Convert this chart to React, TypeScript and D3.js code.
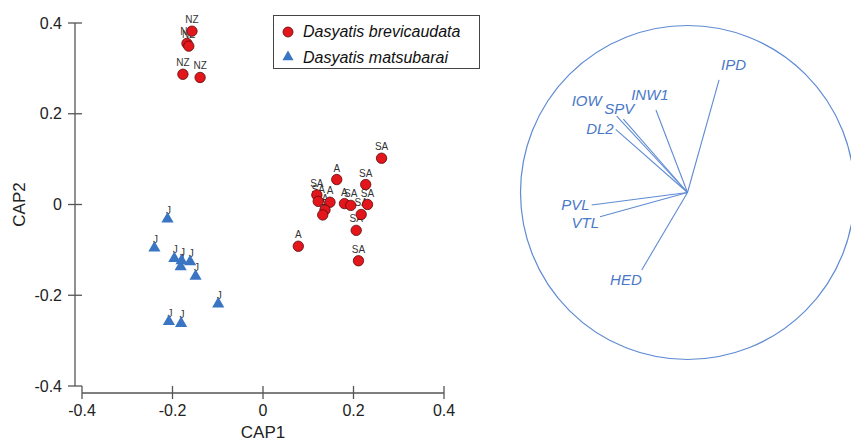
import React from "react";
import * as d3 from "d3";

// CAP ordination scores
const brevicaudataX = [-0.157, -0.168, -0.164, -0.177, -0.139, 0.262, 0.163, 0.227, 0.119, 0.122, 0.148, 0.137, 0.132, 0.18, 0.194, 0.231, 0.217, 0.206, 0.211, 0.078];
const brevicaudataY = [0.382, 0.355, 0.349, 0.287, 0.28, 0.102, 0.055, 0.044, 0.021, 0.007, 0.005, -0.012, -0.023, 0.002, -0.002, 0.0, -0.022, -0.057, -0.124, -0.092];
const brevicaudataSite = ["NZ", "NZ", "NZ", "NZ", "NZ", "SA", "A", "SA", "SA", "SA", "A", "A", "A", "A", "SA", "SA", "SA", "SA", "SA", "A"];

const matsubaraiX = [-0.211, -0.24, -0.196, -0.18, -0.182, -0.161, -0.149, -0.099, -0.208, -0.181];
const matsubaraiY = [-0.032, -0.096, -0.119, -0.124, -0.137, -0.126, -0.158, -0.219, -0.258, -0.262];
const matsubaraiSite = ["J", "J", "J", "J", "J", "J", "J", "J", "J", "J"];

const axisTicks = [-0.4, -0.2, 0, 0.2, 0.4];

// correlation vectors of the morphometric variables
const variables = ["IPD", "INW1", "SPV", "IOW", "DL2", "PVL", "VTL", "HED"];
const varCap1 = [0.189, -0.189, -0.384, -0.424, -0.43, -0.574, -0.524, -0.274];
const varCap2 = [0.674, 0.494, 0.44, 0.458, 0.378, -0.075, -0.145, -0.464];

// label placement next to vector tips (styling)
const labelPlace: Record<string, [number, number, string]> = {
  IPD: [2, -10, "start"],
  INW1: [-6, -10, "middle"],
  SPV: [-4, -5, "middle"],
  IOW: [-15, -10, "end"],
  DL2: [-2, 5, "end"],
  PVL: [-2, 5, "end"],
  VTL: [-1, 11, "end"],
  HED: [0, 15, "end"],
};

const RED = "#e3161c";
const BLUE = "#3a75c4";
const VEC = "#5f8bd2";
const FONT = "'Liberation Sans', Arial, sans-serif";

const fmt = (t: number) => (t === 0 ? "0" : t.toFixed(1));

export default function App() {
  const x = d3.scaleLinear().domain([-0.4, 0.4]).range([82, 444]);
  const y = d3.scaleLinear().domain([-0.4, 0.4]).range([386, 23]);
  const axisX = 75;
  const axisY = 393;

  const bx = d3.scaleLinear().domain([-1, 1]).range([520.5, 854.5]);
  const by = d3.scaleLinear().domain([-1, 1]).range([359.5, 25.5]);
  const R = (bx(1) - bx(-1)) / 2;

  const tri = d3.symbol().type(d3.symbolTriangle).size(64)();
  const triLegend = d3.symbol().type(d3.symbolTriangle).size(54)();

  const brev = brevicaudataX.map((v, i) => ({ x: v, y: brevicaudataY[i], s: brevicaudataSite[i] }));
  const mats = matsubaraiX.map((v, i) => ({ x: v, y: matsubaraiY[i], s: matsubaraiSite[i] }));

  return (
    <svg width={851} height={441} style={{ position: "absolute", left: 0, top: 0, background: "#fff" }} fontFamily={FONT}>
      <rect width={851} height={441} fill="#fff" />

      {/* y axis */}
      <line x1={axisX} x2={axisX} y1={y(0.4)} y2={y(-0.4)} stroke="#555" strokeWidth={1.3} />
      {axisTicks.map((t) => (
        <g key={"y" + t}>
          <line x1={axisX - 7} x2={axisX + 7} y1={y(t)} y2={y(t)} stroke="#555" strokeWidth={1.3} />
          <text x={62} y={y(t)} dy="0.35em" textAnchor="end" fontSize={16} fill="#222">
            {fmt(t)}
          </text>
        </g>
      ))}
      <text transform={`translate(25,${y(0)}) rotate(-90)`} textAnchor="middle" fontSize={17} fill="#222">
        CAP2
      </text>

      {/* x axis */}
      <line x1={x(-0.4)} x2={x(0.4)} y1={axisY} y2={axisY} stroke="#555" strokeWidth={1.3} />
      {axisTicks.map((t) => (
        <g key={"x" + t}>
          <line x1={x(t)} x2={x(t)} y1={axisY - 7} y2={axisY + 6} stroke="#555" strokeWidth={1.3} />
          <text x={x(t)} y={416} textAnchor="middle" fontSize={16} fill="#222">
            {fmt(t)}
          </text>
        </g>
      ))}
      <text x={x(0)} y={438} textAnchor="middle" fontSize={17} fill="#222">
        CAP1
      </text>

      {/* site labels under the markers */}
      {brev.map((d, i) => (
        <text key={"bl" + i} x={x(d.x)} y={y(d.y) - 8} textAnchor="middle" fontSize={10} fill="#333">
          {d.s}
        </text>
      ))}
      {mats.map((d, i) => (
        <text key={"ml" + i} x={x(d.x) + 1} y={y(d.y) - 5} textAnchor="middle" fontSize={10} fill="#333">
          {d.s}
        </text>
      ))}
      {brev.map((d, i) => (
        <circle key={"b" + i} cx={x(d.x)} cy={y(d.y)} r={5.2} fill={RED} stroke="#5a0a0a" strokeWidth={0.8} />
      ))}
      {mats.map((d, i) => (
        <path key={"m" + i} d={tri || ""} transform={`translate(${x(d.x)},${y(d.y)})`} fill={BLUE} />
      ))}

      {/* legend */}
      <rect x={273.5} y={15.5} width={206} height={53} fill="#fff" stroke="#444" strokeWidth={1} />
      <circle cx={288} cy={32} r={5} fill={RED} stroke="#5a0a0a" strokeWidth={0.8} />
      <text x={303} y={37} fontSize={16} fontStyle="italic" fill="#111">
        Dasyatis brevicaudata
      </text>
      <path d={triLegend || ""} transform="translate(288,57)" fill={BLUE} />
      <text x={303} y={63} fontSize={16} fontStyle="italic" fill="#111">
        Dasyatis matsubarai
      </text>

      {/* vector biplot */}
      <circle cx={bx(0)} cy={by(0)} r={R} fill="none" stroke={VEC} strokeWidth={1.2} />
      {variables.map((v, i) => {
        const [dx, dy, anchor] = labelPlace[v];
        return (
          <g key={v}>
            <line x1={bx(0)} y1={by(0)} x2={bx(varCap1[i])} y2={by(varCap2[i])} stroke={VEC} strokeWidth={1.1} />
            <text
              x={bx(varCap1[i]) + dx}
              y={by(varCap2[i]) + dy}
              textAnchor={anchor as any}
              fontSize={15}
              fontStyle="italic"
              fill="#4a78c8"
            >
              {v}
            </text>
          </g>
        );
      })}
    </svg>
  );
}
